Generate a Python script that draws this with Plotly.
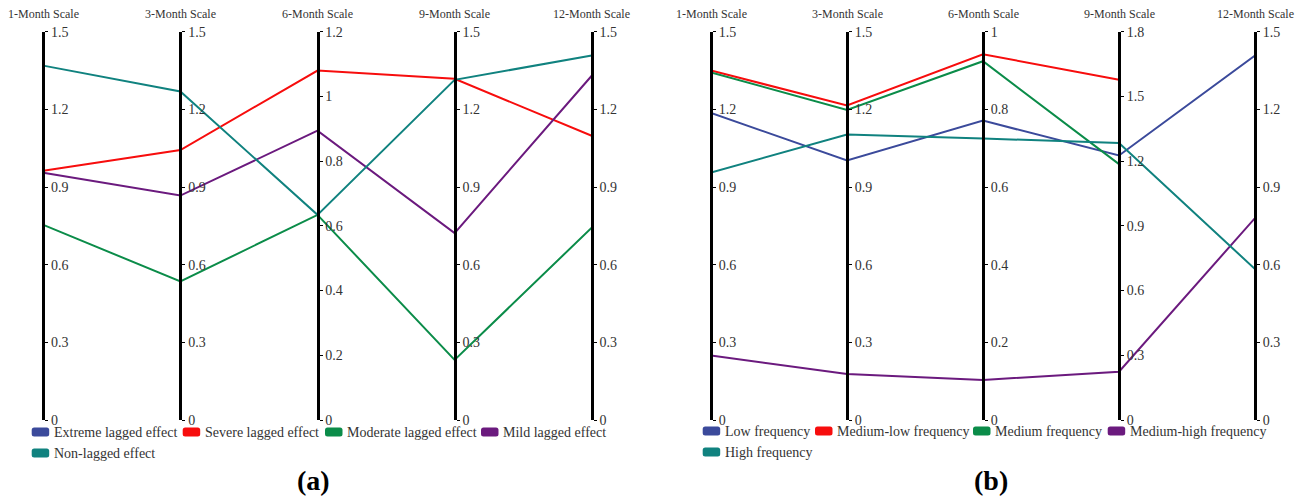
import plotly.graph_objects as go

scales = ["1-Month Scale", "3-Month Scale", "6-Month Scale", "9-Month Scale", "12-Month Scale"]

# (a) lagged-effect groups, one value per scale
a_names = ["Extreme lagged effect", "Severe lagged effect", "Moderate lagged effect",
           "Mild lagged effect", "Non-lagged effect"]
a_extreme = []
a_severe = [0.963, 1.043, 1.080, 1.318, 1.098]
a_moderate = [0.754, 0.535, 0.634, 0.232, 0.743]
a_mild = [0.955, 0.867, 0.894, 0.722, 1.330]
a_nonlagged = [1.369, 1.269, 0.634, 1.314, 1.408]
a_axis_max = [1.5, 1.5, 1.2, 1.5, 1.5]
a_ticks = [
    ["0", "0.3", "0.6", "0.9", "1.2", "1.5"],
    ["0", "0.3", "0.6", "0.9", "1.2", "1.5"],
    ["0", "0.2", "0.4", "0.6", "0.8", "1", "1.2"],
    ["0", "0.3", "0.6", "0.9", "1.2", "1.5"],
    ["0", "0.3", "0.6", "0.9", "1.2", "1.5"],
]

# (b) frequency groups (medium-low and medium have no 12-month value)
b_names = ["Low frequency", "Medium-low frequency", "Medium frequency",
           "Medium-high frequency", "High frequency"]
b_low = [1.186, 1.003, 0.771, 1.226, 1.408]
b_medlow = [1.350, 1.215, 0.942, 1.577]
b_medium = [1.343, 1.198, 0.924, 1.186]
b_medhigh = [0.249, 0.178, 0.103, 0.224, 0.780]
b_high = [0.956, 1.103, 0.725, 1.284, 0.583]
b_axis_max = [1.5, 1.5, 1.0, 1.8, 1.5]
b_ticks = [
    ["0", "0.3", "0.6", "0.9", "1.2", "1.5"],
    ["0", "0.3", "0.6", "0.9", "1.2", "1.5"],
    ["0", "0.2", "0.4", "0.6", "0.8", "1"],
    ["0", "0.3", "0.6", "0.9", "1.2", "1.5", "1.8"],
    ["0", "0.3", "0.6", "0.9", "1.2", "1.5"],
]

colors = ["#3B4A9B", "#F70D0D", "#0B8C49", "#6B1A7E", "#10827F"]

W, H = 1307, 502
FONT = "Liberation Serif"
TXT = "#333333"

# panel geometry (pixels)
top_px, bottom_px = 31.7, 420.0
ydom = [1 - bottom_px / H, 1 - top_px / H]
a_xdom = [43.3 / W, 591.7 / W]
b_xdom = [711.0 / W, 1255.0 / W]

fig = go.Figure()


def add_panel(series, names, axis_max, xref, yref):
    for vals, name, col in zip(series, names, colors):
        if not vals:
            continue
        # each dimension is scaled to its own parallel axis
        fig.add_trace(go.Scatter(
            x=list(range(len(vals))),
            y=[v / axis_max[j] for j, v in enumerate(vals)],
            mode="lines", name=name, line=dict(color=col, width=2),
            xaxis=xref, yaxis=yref, showlegend=False, hoverinfo="skip",
        ))


add_panel([a_extreme, a_severe, a_moderate, a_mild, a_nonlagged], a_names, a_axis_max, "x", "y")
add_panel([b_low, b_medlow, b_medium, b_medhigh, b_high], b_names, b_axis_max, "x2", "y2")

hidden = dict(visible=False, automargin=False, fixedrange=True)
layout = dict(
    width=W, height=H, margin=dict(l=0, r=0, t=0, b=0, pad=0, autoexpand=False),
    paper_bgcolor="white", plot_bgcolor="rgba(0,0,0,0)", showlegend=False,
    xaxis=dict(domain=a_xdom, range=[0, 4], anchor="y", **hidden),
    yaxis=dict(domain=ydom, range=[0, 1], anchor="x", **hidden),
    xaxis2=dict(domain=b_xdom, range=[0, 4], anchor="y2", **hidden),
    yaxis2=dict(domain=ydom, range=[0, 1], anchor="x2", **hidden),
)

annotations = []
axis_id = 3
for xdom, axis_max, ticks, base_y, xref in [(a_xdom, a_axis_max, a_ticks, "y", "x"),
                                            (b_xdom, b_axis_max, b_ticks, "y2", "x2")]:
    for j, mx in enumerate(axis_max):
        pos = xdom[0] + j / (len(axis_max) - 1) * (xdom[1] - xdom[0])
        layout[f"yaxis{axis_id}"] = dict(
            overlaying=base_y, anchor="free", position=pos, side="right",
            range=[0, mx], tickvals=[float(t) for t in ticks[j]], ticktext=ticks[j],
            showline=True, linewidth=3, linecolor="black",
            ticks="outside", ticklen=3, tickwidth=1, tickcolor="black",
            showgrid=False, zeroline=False, fixedrange=True, automargin=False,
            tickfont=dict(family=FONT, size=14, color=TXT),
        )
        # empty trace so the parallel axis gets its own subplot and is drawn
        fig.add_trace(go.Scatter(x=[], y=[], xaxis=xref, yaxis=f"y{axis_id}",
                                 showlegend=False, hoverinfo="skip"))
        axis_id += 1
        annotations.append(dict(
            text=scales[j], xref=xref, x=j, yref="paper", y=1 - 14 / H,
            showarrow=False, xanchor="center", yanchor="middle",
            font=dict(family=FONT, size=12, color=TXT),
        ))

# legend swatches and labels
shapes = []
legend_items = [
    (a_names[0], colors[0], 31.7, 432), (a_names[1], colors[1], 182.7, 432),
    (a_names[2], colors[2], 325.0, 432), (a_names[3], colors[3], 481.0, 432),
    (a_names[4], colors[4], 31.7, 453),
    (b_names[0], colors[0], 702.7, 431), (b_names[1], colors[1], 815.0, 431),
    (b_names[2], colors[2], 973.0, 431), (b_names[3], colors[3], 1107.7, 431),
    (b_names[4], colors[4], 702.7, 452),
]
sw, sh, rr = 17.5, 9.0, 2.5
X = lambda px: px / W
Y = lambda py: 1 - py / H
for name, col, x0, yc in legend_items:
    x1, y0, y1 = x0 + sw, yc - sh / 2, yc + sh / 2
    path = (f"M {X(x0 + rr)},{Y(y0)} L {X(x1 - rr)},{Y(y0)} Q {X(x1)},{Y(y0)} {X(x1)},{Y(y0 + rr)} "
            f"L {X(x1)},{Y(y1 - rr)} Q {X(x1)},{Y(y1)} {X(x1 - rr)},{Y(y1)} "
            f"L {X(x0 + rr)},{Y(y1)} Q {X(x0)},{Y(y1)} {X(x0)},{Y(y1 - rr)} "
            f"L {X(x0)},{Y(y0 + rr)} Q {X(x0)},{Y(y0)} {X(x0 + rr)},{Y(y0)} Z")
    shapes.append(dict(type="path", path=path, xref="paper", yref="paper",
                       fillcolor=col, line=dict(width=0)))
    annotations.append(dict(
        text=name, xref="paper", x=(x1 + 2.5) / W, yref="paper", y=1 - yc / H,
        showarrow=False, xanchor="left", yanchor="middle",
        font=dict(family=FONT, size=14, color=TXT),
    ))

# panel captions
for label, xc in [("(a)", 313), ("(b)", 991)]:
    annotations.append(dict(
        text=f"<b>{label}</b>", xref="paper", x=xc / W, yref="paper", y=1 - 480 / H,
        showarrow=False, xanchor="center", yanchor="middle",
        font=dict(family=FONT, size=28, color="black"),
    ))

layout["annotations"] = annotations
layout["shapes"] = shapes
fig.update_layout(**layout)
fig.write_html("out.html")
